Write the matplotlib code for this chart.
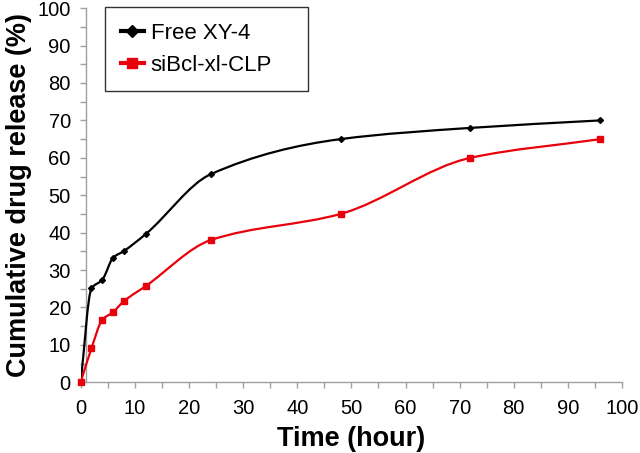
import matplotlib
matplotlib.use("Agg")
import matplotlib.pyplot as plt
from matplotlib.path import Path
from matplotlib.patches import PathPatch
from matplotlib.lines import Line2D
from matplotlib.ticker import MultipleLocator
import numpy as np

plt.rcParams['font.family'] = ['Liberation Sans', 'DejaVu Sans']

# release data
time_h = [0, 2, 4, 6, 8, 12, 24, 48, 72, 96]
free_xy4 = [0, 25.1, 27.4, 33.3, 35.1, 39.6, 55.6, 65.0, 68.0, 70.0]
sibcl_clp = [0, 9.1, 16.7, 18.8, 21.7, 25.7, 38.0, 45.0, 60.0, 65.0]

labels = ['Free XY-4', 'siBcl-xl-CLP']
colors = ['black', '#e8000b']
markers = ['D', 's']
msizes = [3, 4.5]


def smooth_path(xs, ys):
    # smoothed line as bezier segments, monotone (fritsch-carlson) tangents so no overshoot
    x = np.asarray(xs, float)
    y = np.asarray(ys, float)
    h = np.diff(x)
    d = np.diff(y) / h
    m = np.zeros_like(y)
    m[0], m[-1] = d[0], d[-1]
    for i in range(1, len(x) - 1):
        if d[i - 1] * d[i] > 0:
            w1 = 2 * h[i] + h[i - 1]
            w2 = h[i] + 2 * h[i - 1]
            m[i] = (w1 + w2) / (w1 / d[i - 1] + w2 / d[i])
    verts = [(x[0], y[0])]
    codes = [Path.MOVETO]
    for i in range(len(x) - 1):
        verts += [(x[i] + h[i] / 3, y[i] + m[i] * h[i] / 3),
                  (x[i + 1] - h[i] / 3, y[i + 1] - m[i + 1] * h[i] / 3),
                  (x[i + 1], y[i + 1])]
        codes += [Path.CURVE4] * 3
    return Path(verts, codes)


fig = plt.figure(figsize=(6.4, 4.53), dpi=100)
ax = fig.add_axes([0.126, 0.156, 0.846, 0.826])

handles = []
for ys, c, m, ms, lab in zip([free_xy4, sibcl_clp], colors, markers, msizes, labels):
    patch = PathPatch(smooth_path(time_h, ys), facecolor='none', edgecolor=c, lw=1.6, zorder=3)
    ax.add_patch(patch)
    ax.plot(time_h, ys, linestyle='none', marker=m, color=c, markersize=ms, zorder=4, clip_on=False)
    handles.append(Line2D([], [], color=c, lw=3, marker=m, markersize=ms + 3))

ax.set_xlim(0, 100)
ax.set_ylim(0, 100)
ax.xaxis.set_major_locator(MultipleLocator(10))
ax.xaxis.set_minor_locator(MultipleLocator(5))
ax.yaxis.set_major_locator(MultipleLocator(10))
ax.yaxis.set_minor_locator(MultipleLocator(5))

for s in ['top', 'right']:
    ax.spines[s].set_visible(False)
ax.spines['left'].set_position(('data', 1))
for s in ['left', 'bottom']:
    ax.spines[s].set_color('#a0a0a0')
    ax.spines[s].set_linewidth(1.0)

ax.tick_params(which='both', direction='out', length=4, width=1, color='#a0a0a0',
               labelsize=14.5, labelcolor='black')
ax.tick_params(axis='y', pad=7)
ax.tick_params(axis='x', pad=8)

ax.set_xlabel('Time (hour)', fontsize=19.5, fontweight='bold', labelpad=6)
ax.set_ylabel('Cumulative drug release (%)', fontsize=19.5, fontweight='bold', labelpad=4)

leg = ax.legend(handles, labels, loc='upper left', bbox_to_anchor=(0.045, 0.0, 0.375, 1.003),
                mode='expand', borderaxespad=0, fontsize=16, frameon=True, fancybox=False,
                handlelength=1.05, handletextpad=0.3, labelspacing=0.5,
                borderpad=0.7)
leg.get_frame().set_edgecolor('black')
leg.get_frame().set_linewidth(1.0)

fig.savefig('out.png', dpi=100)
